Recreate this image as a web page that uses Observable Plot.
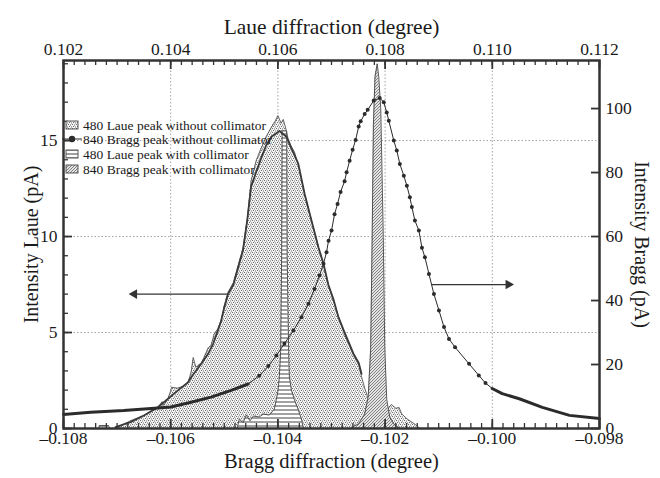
<!DOCTYPE html>
<html>
<head>
<meta charset="utf-8">
<script src="https://cdn.jsdelivr.net/npm/d3@7"></script>
<script src="https://cdn.jsdelivr.net/npm/@observablehq/plot@0.6"></script>
<style>
  body { margin: 0; background: #fff; }
  #chart { width: 660px; height: 478px; }
</style>
</head>
<body>
<div id="chart"></div>
<script>
// Laue angle (top axis) = Bragg angle (bottom axis) + fixed offset
const LAUE_OFFSET = 0.21;
// Right-hand Bragg intensity axis spans 6x the left-hand Laue intensity axis
const BRAGG_PER_LAUE = 6;

// 480 Laue peak without collimator — measured profile (Laue angle in degree, intensity in pA)
const laueFreeAngle = [0.10297, 0.10311, 0.10325, 0.10350, 0.10363, 0.10376, 0.10384, 0.10387, 0.10395, 0.10402,
  0.10412, 0.10425, 0.10432, 0.10438, 0.10442, 0.10447, 0.10457, 0.10462, 0.10470, 0.10475,
  0.10481, 0.10488, 0.10494, 0.10500, 0.10507, 0.10517, 0.10526, 0.10535, 0.10543, 0.10550,
  0.10560, 0.10569, 0.10578, 0.10588, 0.10595, 0.10600, 0.10606, 0.10610, 0.10614, 0.10619,
  0.10625, 0.10631, 0.10638, 0.10650, 0.10663, 0.10676, 0.10685, 0.10694, 0.10704, 0.10713,
  0.10723, 0.10732, 0.10741, 0.10751, 0.10756, 0.10762, 0.10768, 0.10775, 0.10786, 0.10799,
  0.10809, 0.10812, 0.10820, 0.10826, 0.10831, 0.10841, 0.10850, 0.10857, 0.10865];
const laueFreeI = [0, 0.2, 0.4, 0.68, 0.9, 1.1, 1.4, 1.2, 1.55, 2.15,
  2.1, 2.2, 2.4, 2.9, 3.7, 3.2, 3.4, 3.7, 4.2, 4.3,
  4.9, 5.2, 5.6, 6.4, 7.1, 7.6, 8.5, 9.4, 10.9, 12.9,
  14.0, 14.6, 15.2, 15.7, 16.0, 16.3, 15.9, 16.1, 15.7, 15.1,
  14.7, 14.4, 13.7, 12.2, 10.8, 9.4, 8.5, 7.5, 6.6, 5.8,
  5.0, 4.4, 3.8, 3.3, 2.7, 2.1, 1.6, 1.2, 0.9, 0.8,
  1.15, 1.25, 1.05, 1.1, 0.76, 0.5, 0.33, 0.2, 0];

// Smooth fit of the same Laue peak
const laueFitAngle = [0.10297, 0.10325, 0.10350, 0.10376, 0.10395, 0.10414, 0.10432, 0.10443, 0.10457, 0.10470,
  0.10479, 0.10488, 0.10494, 0.10500, 0.10507, 0.10517, 0.10526, 0.10535, 0.10543, 0.10550,
  0.10560, 0.10569, 0.10578, 0.10588, 0.10603, 0.10616, 0.10625, 0.10638, 0.10650, 0.10663,
  0.10676, 0.10685, 0.10694, 0.10704, 0.10713, 0.10723, 0.10732, 0.10741, 0.10751, 0.10756];
const laueFitI = [0.07, 0.33, 0.68, 1.1, 1.55, 2.0, 2.4, 2.85, 3.37, 3.9,
  4.4, 5.1, 5.6, 6.3, 7.0, 7.5, 8.4, 9.3, 10.9, 12.6,
  13.4, 14.1, 14.74, 15.2, 15.5, 15.2, 14.6, 13.8, 12.2, 10.8,
  9.4, 8.6, 7.5, 6.7, 5.8, 5.1, 4.5, 3.9, 3.4, 2.85];

// 480 Laue peak with collimator
const laueCollAngle = [0.10200, 0.10266, 0.10267, 0.10284, 0.10286, 0.10524, 0.10528, 0.10535, 0.10541, 0.10548,
  0.10554, 0.10565, 0.10573, 0.10584, 0.105933, 0.105971, 0.106003, 0.106027, 0.106051, 0.106070,
  0.106079, 0.106164, 0.106173, 0.106201, 0.106214, 0.106252, 0.106308, 0.106377, 0.106439, 0.106476, 0.11200];
const laueCollI = [0, 0, 0.15, 0.15, 0, 0, 0.5, 0.3, 0.7, 0.4,
  0.65, 0.6, 0.75, 0.7, 1.0, 1.5, 2.0, 2.7, 4.0, 9.0,
  15.5, 15.5, 9.0, 4.0, 2.7, 2.0, 1.5, 1.0, 0.5, 0, 0];

// 840 Bragg peak without collimator (Bragg angle in degree, intensity in pA)
const braggFreeAngle = [-0.108000, -0.107494, -0.106876, -0.106239, -0.105996, -0.105621, -0.105247, -0.104872, -0.104554, -0.104348,
  -0.104179, -0.104029, -0.103879, -0.103711, -0.103561, -0.103430, -0.103317, -0.103224, -0.103149, -0.103093,
  -0.103055, -0.102999, -0.102943, -0.102887, -0.102831, -0.102756, -0.102718, -0.102662, -0.102606, -0.102550,
  -0.102493, -0.102456, -0.102381, -0.102325, -0.102212, -0.102100, -0.102025, -0.101969, -0.101931, -0.101838,
  -0.101782, -0.101725, -0.101651, -0.101594, -0.101538, -0.101501, -0.101444, -0.101370, -0.101313, -0.101257,
  -0.101182, -0.101089, -0.100995, -0.100901, -0.100808, -0.100695, -0.100433, -0.100252, -0.100127, -0.100002,
  -0.099815, -0.099497, -0.099066, -0.098560, -0.098000];
const braggFreeI = [4.4, 5.1, 5.6, 6.4, 6.7, 8.2, 9.8, 11.9, 13.9, 16.5,
  19.5, 22.8, 26.5, 30.6, 34.8, 39, 43.6, 47.8, 51.5, 55.1,
  58.7, 61.9, 67, 70.2, 73.9, 77.3, 80.1, 83.7, 87.1, 90.2,
  94.4, 96, 98.3, 99.6, 102.5, 103.3, 102, 98.8, 96.2, 90,
  86.9, 82.7, 79, 75.9, 72.3, 69.2, 65, 61.9, 56.5, 53.5,
  48.3, 42, 36.9, 31.7, 28, 25.4, 20.2, 16.6, 14.2, 12.5,
  10.9, 9.3, 6.6, 4.1, 3.1];

// 840 Bragg peak with collimator
const braggCollAngle = [-0.102625, -0.102493, -0.102381, -0.102315, -0.102269, -0.102241, -0.102218, -0.102188, -0.102147, -0.102119,
  -0.102081, -0.102034, -0.102006, -0.101969, -0.101913, -0.101819, -0.101725];
const braggCollI = [0.3, 1.5, 4.5, 10, 25, 60, 95, 110, 114, 110,
  100, 60, 25, 9, 3.5, 1.0, 0.2];

// Axis ticks and labels
const braggTicks = [-0.108, -0.106, -0.104, -0.102, -0.100, -0.098];
const laueTickLabels = ["0.102", "0.104", "0.106", "0.108", "0.110", "0.112"];
const laueIntensityTicks = [0, 5, 10, 15];
const braggIntensityTicks = [0, 20, 40, 60, 80, 100];
const legendLabels = [
  "480 Laue peak without collimator",
  "840 Bragg peak without collimator",
  "480 Laue peak with collimator",
  "840 Bragg peak with collimator"
];

// Direction arrows: which curve belongs to which intensity axis
const arrowRows = [
  {from: -0.10493, to: -0.10668, level: 7.0, turn: -90},                 // Laue curve -> left axis
  {from: -0.10113, to: -0.09970, level: 45 / BRAGG_PER_LAUE, turn: 90}   // Bragg curve -> right axis
];

const W = 660, H = 478;
const M = {top: 60, right: 61, bottom: 50, left: 63};
const INNER_W = W - M.left - M.right;
const INNER_H = H - M.top - M.bottom;
const Y_MAX = 19.17;
const INK = "#2b2b2b";
const FONT = "'Liberation Serif', 'Times New Roman', serif";

const laueFree = laueFreeAngle.map((a, i) => ({x: a - LAUE_OFFSET, y: laueFreeI[i]}));
const laueFit = laueFitAngle.map((a, i) => ({x: a - LAUE_OFFSET, y: laueFitI[i]}));
const laueColl = laueCollAngle.map((a, i) => ({x: a - LAUE_OFFSET, y: laueCollI[i]}));
const braggFree = braggFreeAngle.map((a, i) => ({x: a, v: braggFreeI[i], y: braggFreeI[i] / BRAGG_PER_LAUE}));
const braggColl = braggCollAngle.map((a, i) => ({x: a, y: braggCollI[i] / BRAGG_PER_LAUE}));

const xMinor = d3.range(0, 51).map(i => -0.108 + i * 0.0002);
const yMinor = d3.range(0, 20);
const fmtBragg = d => (d < 0 ? "\u2013" : "") + Math.abs(d).toFixed(3);

const svg = Plot.plot({
  width: W, height: H,
  marginTop: M.top, marginRight: M.right, marginBottom: M.bottom, marginLeft: M.left,
  style: {fontFamily: FONT, color: "#1a1a1a", background: "#fff"},
  x: {domain: [-0.108, -0.098], label: null},
  y: {domain: [0, Y_MAX], label: null},
  marks: [
    // dotted grid
    Plot.ruleX(braggTicks.slice(1, -1), {stroke: "#8a8a8a", strokeWidth: 0.8, strokeDasharray: "1.5,2"}),
    Plot.ruleY(laueIntensityTicks.slice(1), {stroke: "#8a8a8a", strokeWidth: 0.8, strokeDasharray: "1.5,2"}),

    // Laue peak without collimator
    Plot.areaY(laueFree, {x: "x", y: "y", fill: "url(#stipple)"}),
    Plot.line(laueFree, {x: "x", y: "y", stroke: "#555", strokeWidth: 0.9}),

    // Laue peak with collimator
    Plot.areaY(laueColl, {x: "x", y: "y", fill: "url(#hstripe)"}),
    Plot.line(laueColl, {x: "x", y: "y", stroke: "#444", strokeWidth: 0.9}),

    // Bragg peak with collimator
    Plot.areaY(braggColl, {x: "x", y: "y", fill: "url(#hatch)"}),
    Plot.line(braggColl, {x: "x", y: "y", stroke: "#444", strokeWidth: 0.9}),

    // smooth fit of the Laue peak
    Plot.line(laueFit, {x: "x", y: "y", stroke: "#3a3a3a", strokeWidth: 1.8}),

    // Bragg peak without collimator: thin line with dots, heavy tails
    Plot.line(braggFree, {x: "x", y: "y", stroke: INK, strokeWidth: 1}),
    Plot.line(braggFree, {filter: d => d.v < 14, x: "x", y: "y", z: d => d.x < -0.103 ? "low" : "high",
      stroke: INK, strokeWidth: 3}),
    Plot.dot(braggFree, {filter: d => d.v >= 14, x: "x", y: "y", r: 2, fill: INK}),

    // arrows: shaft plus filled head
    Plot.link(arrowRows, {x1: "from", x2: "to", y1: "level", y2: "level", stroke: "#333", strokeWidth: 1.2}),
    Plot.dot(arrowRows, {x: "to", y: "level", symbol: "triangle", r: 3.6, rotate: "turn", fill: "#333"}),

    // tick marks pointing inward
    Plot.ruleX(xMinor, {insetTop: INNER_H - 5, stroke: "#333", strokeWidth: 1.3}),
    Plot.ruleX(braggTicks, {insetTop: INNER_H - 9, stroke: "#333", strokeWidth: 1.8}),
    Plot.ruleX(xMinor, {insetBottom: INNER_H - 5, stroke: "#333", strokeWidth: 1.3}),
    Plot.ruleX(braggTicks, {insetBottom: INNER_H - 9, stroke: "#333", strokeWidth: 1.8}),
    Plot.ruleY(yMinor, {insetRight: INNER_W - 5, stroke: "#333", strokeWidth: 1.3}),
    Plot.ruleY(laueIntensityTicks, {insetRight: INNER_W - 9, stroke: "#333", strokeWidth: 1.8}),
    Plot.ruleY(braggIntensityTicks.map(v => v / BRAGG_PER_LAUE), {insetLeft: INNER_W - 8, stroke: "#333", strokeWidth: 1.8}),

    Plot.frame({stroke: "#333", strokeWidth: 2.5}),

    // tick labels
    Plot.axisX({anchor: "bottom", ticks: braggTicks, tickFormat: fmtBragg, tickSize: 0, tickPadding: 3,
      fontSize: 17.5, label: null}),
    Plot.axisX({anchor: "top", ticks: braggTicks, tickFormat: d => laueTickLabels[braggTicks.indexOf(d)],
      tickSize: 0, tickPadding: 6, fontSize: 17.5, label: null}),
    Plot.axisY({anchor: "left", ticks: laueIntensityTicks, tickSize: 0, tickPadding: 6, fontSize: 17.5, label: null}),
    Plot.axisY({anchor: "right", ticks: braggIntensityTicks.map(v => v / BRAGG_PER_LAUE),
      tickFormat: d => String(Math.round(d * BRAGG_PER_LAUE)), tickSize: 0, tickPadding: 6, fontSize: 17.5, label: null}),

    // axis titles
    Plot.text(["Laue diffraction (degree)"], {text: d => d, frameAnchor: "top", dy: -42, fontSize: 21.5}),
    Plot.text(["Bragg diffraction (degree)"], {text: d => d, frameAnchor: "bottom", dy: 39, fontSize: 20.5}),
    Plot.text(["Intensity Laue (pA)"], {text: d => d, frameAnchor: "left", textAnchor: "middle",
      rotate: -90, dx: -32, fontSize: 20}),
    Plot.text(["Intensity Bragg (pA)"], {text: d => d, frameAnchor: "right", textAnchor: "middle",
      rotate: 90, dx: 42, fontSize: 20})
  ]
});

// fill patterns
const root = d3.select(svg);
const defs = root.insert("defs", ":first-child");

// fine speckle for the broad Laue peak
const stipple = defs.append("pattern").attr("id", "stipple")
  .attr("patternUnits", "userSpaceOnUse").attr("width", 4).attr("height", 4);
stipple.append("rect").attr("width", 4).attr("height", 4).attr("fill", "#f3f3f3");
[[0, 0], [2, 0.5], [1, 2], [3, 2.5]].forEach(([px, py]) =>
  stipple.append("rect").attr("x", px).attr("y", py).attr("width", 1).attr("height", 1).attr("fill", "#6a6a6a"));

const hstripe = defs.append("pattern").attr("id", "hstripe")
  .attr("patternUnits", "userSpaceOnUse").attr("width", 4).attr("height", 4);
hstripe.append("rect").attr("width", 4).attr("height", 4).attr("fill", "#fff");
hstripe.append("rect").attr("y", 1.5).attr("width", 4).attr("height", 1).attr("fill", "#444");

const hatch = defs.append("pattern").attr("id", "hatch")
  .attr("patternUnits", "userSpaceOnUse").attr("width", 3).attr("height", 3);
hatch.append("rect").attr("width", 3).attr("height", 3).attr("fill", "#e4e4e4");
hatch.append("path").attr("d", "M-1,1 L1,-1 M0,3 L3,0 M2,4 L4,2")
  .attr("stroke", "#555").attr("stroke-width", 0.7);

// legend inside the plot area, top-left
const legend = root.append("g")
  .attr("font-family", FONT).attr("font-size", 13.5).attr("fill", "#1a1a1a")
  .attr("text-anchor", "start");
const rowY = [125, 139, 154, 169];
const swatchFill = ["url(#stipple)", null, "url(#hstripe)", "url(#hatch)"];
legendLabels.forEach((label, i) => {
  const y = rowY[i];
  if (swatchFill[i]) {
    legend.append("rect").attr("x", 66).attr("y", y - 4).attr("width", 12).attr("height", 8)
      .attr("fill", swatchFill[i]).attr("stroke", "#444").attr("stroke-width", 0.9);
  } else {
    legend.append("line").attr("x1", 62).attr("x2", 82).attr("y1", y).attr("y2", y)
      .attr("stroke", INK).attr("stroke-width", 1);
    legend.append("circle").attr("cx", 72).attr("cy", y).attr("r", 3.2).attr("fill", INK);
  }
  legend.append("text").attr("x", 83).attr("y", y).attr("dy", "0.35em")
    .attr("text-anchor", "start").text(label);
});

document.getElementById("chart").appendChild(svg);
</script>
</body>
</html>
